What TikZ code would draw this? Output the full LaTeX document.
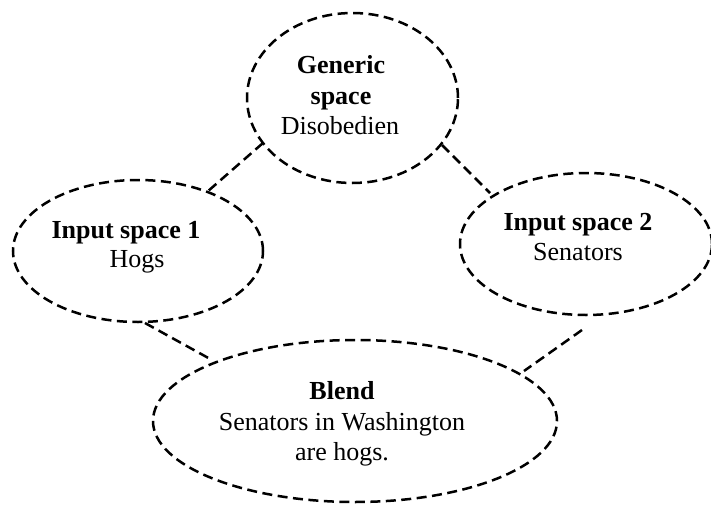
\documentclass[tikz,border=0pt]{standalone}
\usepackage{fontspec}
\setmainfont{Liberation Serif}
\usetikzlibrary{shapes.geometric}
\begin{document}
\begin{tikzpicture}[x=1pt,y=-1pt,
  dl/.style={draw=black,line width=2.5pt,dash pattern=on 10pt off 5.5pt},
  space/.style={dl,ellipse,inner sep=0pt},
  txt/.style={align=center,font=\fontsize{26}{30.5}\selectfont,inner sep=0pt},
  link/.style={dl}]
\useasboundingbox (0,0) rectangle (711,505);
\node[space,minimum width=211pt,minimum height=170pt] (gen) at (352.5,98) {};
\node[space,minimum width=250pt,minimum height=142pt] (in1) at (138,251) {};
\node[space,minimum width=252pt,minimum height=142pt] (in2) at (586,244) {};
\node[space,minimum width=404pt,minimum height=162pt] (bl) at (355,421) {};
\node[txt,anchor=base] (tg1) at (341,74) {\textbf{Generic}};
\node[txt,anchor=base] (tg2) at (341,105) {\textbf{space}};
\node[txt,anchor=base] (tg3) at (340,135) {Disobedien};
\node[txt,anchor=base] (t11) at (126,238) {\textbf{Input space 1}};
\node[txt,anchor=base] (t12) at (137,267) {Hogs};
\node[txt,anchor=base] (t21) at (578,230) {\textbf{Input space 2}};
\node[txt,anchor=base] (t22) at (578,260) {Senators};
\node[txt,anchor=base] (tb1) at (342,399) {\textbf{Blend}};
\node[txt,anchor=base] (tb2) at (342,430) {Senators in Washington};
\node[txt,anchor=base] (tb3) at (342,460) {are hogs.};
\coordinate (a1) at (263,143);
\coordinate (a2) at (207,192);
\coordinate (b1) at (442,145);
\coordinate (b2) at (490,193);
\coordinate (c1) at (145,323);
\coordinate (c2) at (212,360);
\coordinate (d1) at (582,330);
\coordinate (d2) at (524,371);
\draw[link] (a1) -- (a2);
\draw[link] (b1) -- (b2);
\draw[link] (c1) -- (c2);
\draw[link] (d1) -- (d2);
\end{tikzpicture}
\end{document}
